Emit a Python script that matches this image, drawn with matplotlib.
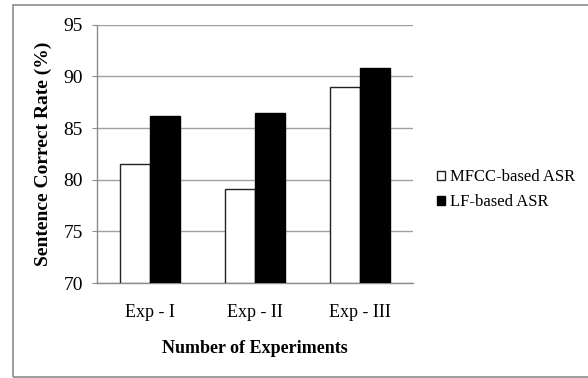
import numpy as np
import matplotlib.pyplot as plt
from matplotlib.patches import Rectangle

# data
experiments = ["Exp - I", "Exp - II", "Exp - III"]
mfcc_asr = [81.5, 79.1, 89.0]
lf_asr = [86.2, 86.5, 90.8]
y_ticks = [70, 75, 80, 85, 90, 95]

plt.rcParams["font.family"] = ["Liberation Serif", "DejaVu Serif"]

fig = plt.figure(figsize=(5.88, 3.78), dpi=100)
ax = fig.add_axes([97 / 588, 1 - 283 / 378, 316 / 588, (283 - 24.7) / 378])

# outer frame (right edge falls outside the picture)
fig.patches.append(Rectangle((13 / 588, 1 - 377 / 378), 1.0, (377 - 5) / 378,
                             transform=fig.transFigure, fill=False,
                             edgecolor="#8c8c8c", linewidth=1.2))

x = np.arange(len(experiments))
w = 0.285
ax.bar(x - w / 2, np.array(mfcc_asr) - 70, w, bottom=70, color="white",
       edgecolor="#222222", linewidth=1.0, label="MFCC-based ASR", zorder=3)
ax.bar(x + w / 2, np.array(lf_asr) - 70, w, bottom=70, color="black",
       edgecolor="black", linewidth=1.0, label="LF-based ASR", zorder=3)

ax.set_xlim(-0.5, 2.5)
ax.set_ylim(70, 95)
ax.set_yticks(y_ticks)
ax.set_xticks(x)
ax.set_xticklabels(experiments, fontsize=13)
ax.tick_params(axis="y", labelsize=14, length=3.6, color="#8c8c8c", pad=6.4)
ax.tick_params(axis="x", length=0, pad=15)
ax.yaxis.grid(True, color="#a0a0a0", linewidth=1.0, zorder=0)
ax.set_axisbelow(True)
for s in ["top", "right"]:
    ax.spines[s].set_visible(False)
for s in ["left", "bottom"]:
    ax.spines[s].set_color("#8c8c8c")
    ax.spines[s].set_linewidth(1.0)

ax.set_ylabel("Sentence Correct Rate (%)", fontsize=14, fontweight="bold", labelpad=8)
ax.set_xlabel("Number of Experiments", fontsize=13, fontweight="bold", labelpad=14)

ax.legend(loc="upper left", bbox_to_anchor=(437 / 588, 1 - 169 / 378),
          bbox_transform=fig.transFigure, frameon=False, fontsize=12,
          handlelength=0.45, handleheight=0.45, handletextpad=0.3,
          labelspacing=0.55, borderpad=0, borderaxespad=0)

fig.savefig("out.png", dpi=100)
